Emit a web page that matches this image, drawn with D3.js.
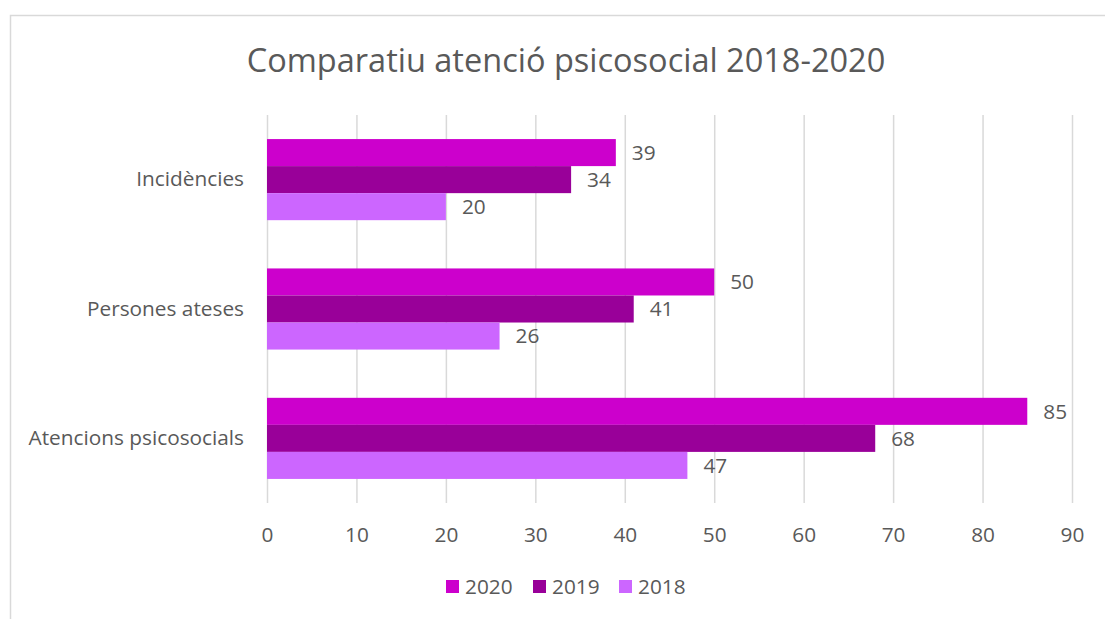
<!DOCTYPE html>
<html><head><meta charset="utf-8">
<script src="https://cdn.jsdelivr.net/npm/d3@7"></script>
<style>body{margin:0;background:#fff}svg{display:block}text{font-family:"Open Sans",sans-serif;fill:#595959}</style>
</head><body>
<script>
const categories = ["Incidències", "Persones ateses", "Atencions psicosocials"];
const seriesNames = ["2020", "2019", "2018"];
const values2020 = [39, 50, 85];
const values2019 = [34, 41, 68];
const values2018 = [20, 26, 47];
const tickValues = [0,10,20,30,40,50,60,70,80,90];
const colors = ["#CC00CC", "#990099", "#CC66FF"];
const title = "Comparatiu atenció psicosocial 2018-2020";

(function () {
const W = 1105, H = 619;
const FONT = '"Open Sans",sans-serif';
const FS = "20.8px";
const svg = d3.select("body").append("svg").attr("width", W).attr("height", H);
svg.append("rect").attr("x", 10.5).attr("y", 15.5).attr("width", W + 20).attr("height", H + 20)
  .attr("fill", "#fff").attr("stroke", "#d9d9d9").attr("stroke-width", 1.5);

const pL = 267, pR = 1072, pT = 115, pB = 503;
const x = d3.scaleLinear().domain([0, 90]).range([pL, pR]);
const y = d3.scaleBand().domain(categories).range([pT, pB]).paddingInner(0.373).paddingOuter(0.186);
const ySub = d3.scaleBand().domain(seriesNames).range([0, y.bandwidth()]);
const series = [values2020, values2019, values2018];

svg.append("text").attr("x", 566).attr("y", 72).attr("text-anchor", "middle")
  .style("font-size", "32.5px").text(title);

svg.append("g").selectAll("line").data(tickValues).join("line")
  .attr("x1", d => x(d) + 0.5).attr("x2", d => x(d) + 0.5)
  .attr("y1", pT).attr("y2", pB).attr("stroke", "#d9d9d9").attr("stroke-width", 1.5);

const xAxis = svg.append("g").attr("transform", `translate(0,${pB})`)
  .call(d3.axisBottom(x).tickValues(tickValues).tickSize(0).tickPadding(24));
xAxis.select(".domain").remove();
xAxis.selectAll("text").style("font-size", FS).attr("fill", "#595959").style("font-family", FONT);

const yAxis = svg.append("g").attr("transform", `translate(${pL},0)`)
  .call(d3.axisLeft(y).tickSize(0).tickPadding(23));
yAxis.select(".domain").remove();
yAxis.selectAll("text").style("font-size", FS).attr("fill", "#595959").style("font-family", FONT);

series.forEach((vals, si) => {
  const g = svg.append("g");
  g.selectAll("rect").data(vals).join("rect")
    .attr("x", x(0)).attr("y", (d, i) => y(categories[i]) + ySub(seriesNames[si]))
    .attr("width", d => x(d) - x(0)).attr("height", ySub.bandwidth())
    .attr("fill", colors[si]);
  g.selectAll("text").data(vals).join("text")
    .attr("x", d => x(d) + 16).attr("y", (d, i) => y(categories[i]) + ySub(seriesNames[si]) + ySub.bandwidth() / 2)
    .attr("dy", "0.35em").style("font-size", FS).text(d => d);
});

const legendX = [446, 533, 619];
const lg = svg.append("g");
seriesNames.forEach((s, i) => {
  lg.append("rect").attr("x", legendX[i]).attr("y", 580).attr("width", 13).attr("height", 13).attr("fill", colors[i]);
  lg.append("text").attr("x", legendX[i] + 19).attr("y", 587).attr("dy", "0.35em").style("font-size", FS).text(s);
});
})();
</script>
</body></html>
